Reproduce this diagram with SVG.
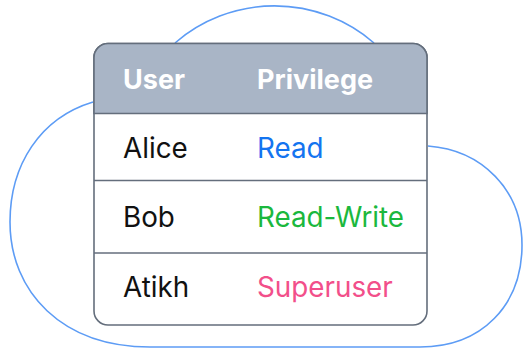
<svg xmlns="http://www.w3.org/2000/svg" width="523" height="350" viewBox="0 0 523 350">
<style>
.cloud{fill:none;stroke:#5d9cf5;stroke-width:1.6}
.frame{fill:#fff;stroke:#646e7c;stroke-width:1.6}
.sep{stroke:#646e7c;stroke-width:1.6}
text{font-family:Inter,"Noto Sans",sans-serif;font-size:27.8px}
.hd{fill:#fff;font-weight:700;font-size:27px}
.nm{fill:#111}
</style>
<rect width="523" height="350" fill="#fff"/>
<g id="cloud">
<path class="cloud" d="M175,43 A152,152 0 0 1 374,43"/>
<path class="cloud" d="M93,102 C40,118 10,165 10,222 C10,292 62,347 150,347 L420,347 C482,347 522,305 522,245 C522,190 482,150 428,146"/>
</g>
<g id="table">
<rect class="frame" x="94" y="43.5" width="333" height="281.5" rx="14"/>
<path d="M94,113.5 V57.5 A14,14 0 0 1 108,43.5 H413 A14,14 0 0 1 427,57.5 V113.5 Z" fill="#a9b5c6" stroke="#646e7c" stroke-width="1.6"/>
<line class="sep" x1="94" y1="180.5" x2="427" y2="180.5"/>
<line class="sep" x1="94" y1="253" x2="427" y2="253"/>
</g>
<g id="header">
<text class="hd" x="123" y="89">User</text>
<text class="hd" x="257" y="89">Privilege</text>
</g>
<g id="row-alice">
<text class="nm" x="123" y="158">Alice</text>
<text x="257" y="158" fill="#1474f0">Read</text>
</g>
<g id="row-bob">
<text class="nm" x="123" y="227">Bob</text>
<text x="257" y="227" fill="#1bb83d">Read-Write</text>
</g>
<g id="row-atikh">
<text class="nm" x="123" y="297">Atikh</text>
<text x="257" y="297" fill="#f24f8a">Superuser</text>
</g>
</svg>
